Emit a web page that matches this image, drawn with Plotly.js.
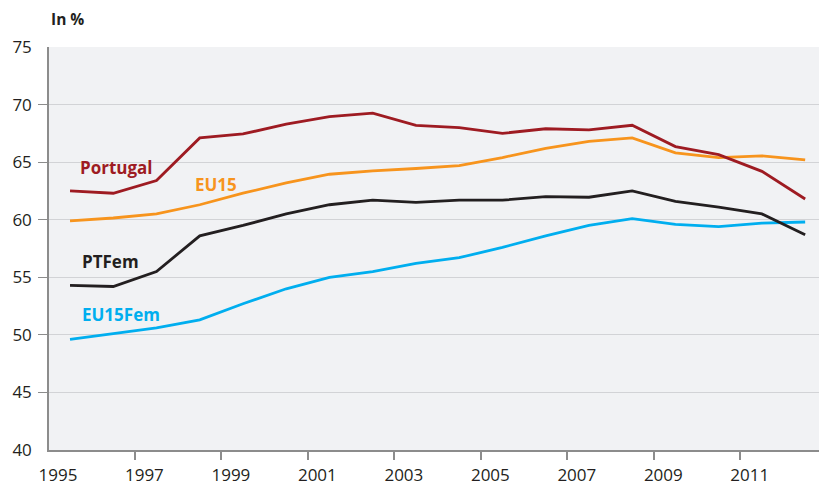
<!DOCTYPE html>
<html>
<head>
<meta charset="utf-8">
<script src="https://cdn.plot.ly/plotly-3.0.1.min.js"></script>
<style>
  html, body { margin: 0; padding: 0; background: #fff; }
  #myPlot { width: 819px; height: 486px; }
</style>
</head>
<body>
<div id="myPlot"></div>
<script>
// Employment rates, in %
const years = [1995, 1996, 1997, 1998, 1999, 2000, 2001, 2002, 2003,
               2004, 2005, 2006, 2007, 2008, 2009, 2010, 2011, 2012];
const portugal = [62.5, 62.3, 63.4, 67.1, 67.45, 68.3, 68.95, 69.25, 68.2,
                  68.0, 67.5, 67.9, 67.8, 68.2, 66.35, 65.65, 64.2, 61.8];
const eu15     = [59.9, 60.15, 60.5, 61.3, 62.3, 63.2, 63.95, 64.25, 64.45,
                  64.7, 65.4, 66.2, 66.8, 67.1, 65.8, 65.4, 65.55, 65.2];
const ptFem    = [54.3, 54.2, 55.5, 58.6, 59.5, 60.5, 61.3, 61.7, 61.5,
                  61.7, 61.7, 62.0, 61.95, 62.5, 61.6, 61.1, 60.5, 58.7];
const eu15Fem  = [49.6, 50.1, 50.6, 51.3, 52.7, 54.0, 55.0, 55.5, 56.2,
                  56.7, 57.6, 58.6, 59.5, 60.1, 59.6, 59.4, 59.7, 59.8];
const xTickLabels = ['1995', '1997', '1999', '2001', '2003', '2005', '2007', '2009', '2011'];
const yTickLabels = [40, 45, 50, 55, 60, 65, 70, 75];

const font = '"Open Sans", "DejaVu Sans", sans-serif';
const textColor = '#231f20';

function line(y, name, color) {
  return {
    x: years, y: y, name: name,
    mode: 'lines', type: 'scatter',
    line: {color: color, width: 2.8},
    hoverinfo: 'x+y+name'
  };
}

var data = [
  line(eu15Fem, 'EU15Fem', '#00aeef'),
  line(ptFem, 'PTFem', '#231f20'),
  line(eu15, 'EU15', '#f7941d'),
  line(portugal, 'Portugal', '#9e1b22')
];

// labels sit a bit left of the year, tick marks between years
var labelPos = xTickLabels.map(t => +t - 0.28);
var tickMarks = xTickLabels.slice(1).map(t => +t - 0.5);
var yInner = yTickLabels.slice(1, -1);

function seriesLabel(text, x, y, color) {
  return {
    text: '<b>' + text + '</b>', x: x, y: y, xref: 'x', yref: 'y',
    xanchor: 'left', yanchor: 'middle', showarrow: false,
    font: {family: font, size: 17, color: color}
  };
}

var layout = {
  width: 819, height: 486,
  margin: {l: 49, r: 0, t: 47, b: 36},
  paper_bgcolor: '#ffffff',
  plot_bgcolor: '#f1f2f4',
  showlegend: false,
  font: {family: font, size: 17, color: textColor},
  xaxis: {
    range: [1994.514, 2012.32],
    tickmode: 'array', tickvals: labelPos, ticktext: xTickLabels,
    ticks: 'outside', ticklen: 9, tickcolor: 'rgba(0,0,0,0)',
    showgrid: false, zeroline: false,
    showline: true, linecolor: '#8c8c8c', linewidth: 1.5,
    minor: {tickmode: 'array', tickvals: tickMarks, ticks: 'outside',
            ticklen: 8, tickwidth: 1.5, tickcolor: '#8c8c8c', showgrid: false}
  },
  yaxis: {
    range: [40, 75],
    tickmode: 'array', tickvals: yTickLabels,
    ticks: 'outside', ticklen: 12, tickcolor: 'rgba(0,0,0,0)',
    showgrid: false, zeroline: false,
    showline: true, linecolor: '#8c8c8c', linewidth: 1.5,
    minor: {tickmode: 'array', tickvals: yInner, ticks: 'outside',
            ticklen: 9, tickwidth: 1.2, tickcolor: '#8c8c8c',
            showgrid: true, gridcolor: '#d2d3d6', gridwidth: 1.2}
  },
  annotations: [
    {text: '<b>In %</b>', xref: 'paper', yref: 'paper', x: 0, y: 1.0695,
     xanchor: 'left', yanchor: 'middle', showarrow: false,
     font: {family: font, size: 15.5, color: textColor}},
    seriesLabel('Portugal', 1995.19, 64.5, '#9e1b22'),
    seriesLabel('EU15', 1997.84, 63.1, '#f7941d'),
    seriesLabel('PTFem', 1995.23, 56.4, '#231f20'),
    seriesLabel('EU15Fem', 1995.23, 51.75, '#00aeef')
  ]
};

Plotly.newPlot('myPlot', data, layout, {displayModeBar: false});
</script>
</body>
</html>
